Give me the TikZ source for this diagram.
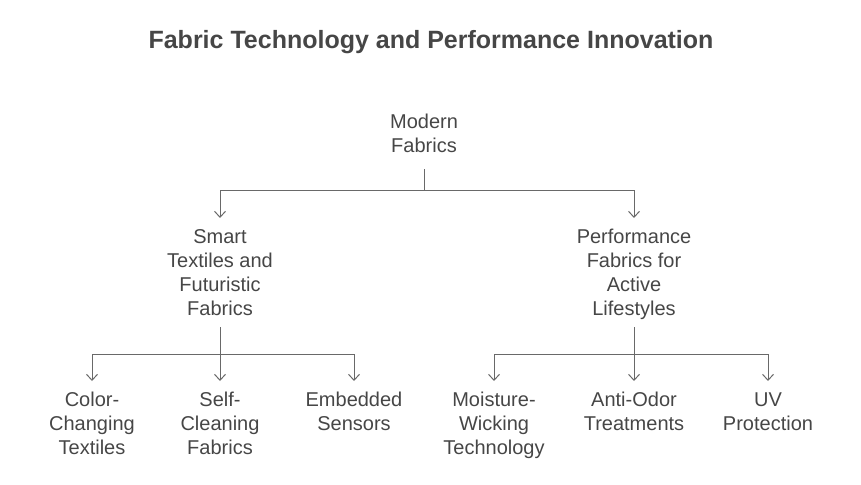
\documentclass[tikz,border=0pt]{standalone}
\usepackage{fontspec}
\setmainfont{Liberation Sans}
\usetikzlibrary{arrows.meta}
\definecolor{txtgray}{RGB}{70,70,70}
\definecolor{linegray}{RGB}{105,105,105}
\newcommand{\hl}{\vphantom{Mdg}}
\begin{document}
\begin{tikzpicture}[x=1pt,y=-1pt,
  item/.style={anchor=north,align=center,text=txtgray,inner xsep=0pt,inner ysep=11pt,font=\fontsize{20}{24}\selectfont},
  link/.style={draw=linegray,line width=1pt,-{Straight Barb[length=6pt,width=11pt]}}]
\useasboundingbox (0,0) rectangle (861,484);
\node[anchor=base,text=txtgray,font=\fontsize{25}{28}\selectfont\bfseries] (title) at (431,49) {Fabric Technology and Performance Innovation};
\node[item] (root) at (424,103) {\hl Modern\\\hl Fabrics};
\node[item] (smart) at (220,218) {\hl Smart\\Textiles and\\Futuristic\\\hl Fabrics};
\node[item] (perf) at (634,218) {\hl Performance\\Fabrics for\\Active\\\hl Lifestyles};
\node[item] (color) at (92,381) {\hl Color-\\Changing\\\hl Textiles};
\node[item] (self) at (220,381) {\hl Self-\\Cleaning\\\hl Fabrics};
\node[item] (sensor) at (354,381) {\hl Embedded\\\hl Sensors};
\node[item] (wick) at (494,381) {\hl Moisture-\\Wicking\\\hl Technology};
\node[item] (odor) at (634,381) {\hl Anti-Odor\\\hl Treatments};
\node[item] (uv) at (768,381) {\hl UV\\\hl Protection};
\draw[link] ([yshift=-1pt]root.south) -- ++(0,21) -| (smart.north);
\draw[link] ([yshift=-1pt]root.south) -- ++(0,21) -| (perf.north);
\draw[link] ([yshift=4pt]smart.south) -- ++(0,27) -| (color.north);
\draw[link] ([yshift=4pt]smart.south) -- (self.north);
\draw[link] ([yshift=4pt]smart.south) -- ++(0,27) -| (sensor.north);
\draw[link] ([yshift=4pt]perf.south) -- ++(0,27) -| (wick.north);
\draw[link] ([yshift=4pt]perf.south) -- (odor.north);
\draw[link] ([yshift=4pt]perf.south) -- ++(0,27) -| (uv.north);
\end{tikzpicture}
\end{document}
